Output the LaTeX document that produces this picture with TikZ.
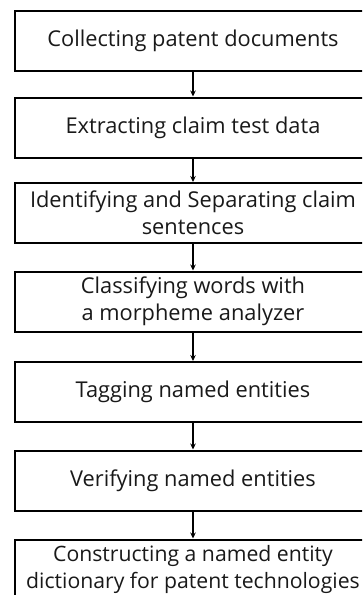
\documentclass[tikz,border=0pt]{standalone}
\usepackage{fontspec}
\setmainfont{Open Sans}
\usetikzlibrary{arrows.meta}
\begin{document}
\begin{tikzpicture}[x=1pt,y=-1pt,
  stepbox/.style={draw=black, line width=2pt, minimum width=356pt, minimum height=60pt,
    align=center, inner sep=0pt, font=\fontsize{21.8}{27}\selectfont, text=black!90},
  conn/.style={line width=1.5pt, -{Stealth[length=6pt,width=5.5pt]}}]
\useasboundingbox (0,0) rectangle (362,595);
\clip (0,0) rectangle (362,595);
\fill[white] (0,0) rectangle (362,595);
\node[stepbox] (s1) at (193,41) {Collecting patent documents};
\node[stepbox] (s2) at (193,127.5) {Extracting claim test data};
\node[stepbox] (s3) at (193,213) {Identifying and Separating claim\\sentences};
\node[stepbox] (s4) at (193,301.5) {Classifying words with\\a morpheme analyzer};
\node[stepbox] (s5) at (193,392) {Tagging named entities};
\node[stepbox] (s6) at (193,480.5) {Verifying named entities};
\node[stepbox, font=\fontsize{21.2}{27}\selectfont] (s7) at (193,569.5) {Constructing a named entity\\dictionary for patent technologies};
\draw[conn] (s1) -- (s2);
\draw[conn] (s2) -- (s3);
\draw[conn] (s3) -- (s4);
\draw[conn] (s4) -- (s5);
\draw[conn] (s5) -- (s6);
\draw[conn] (s6) -- (s7);
\end{tikzpicture}
\end{document}
